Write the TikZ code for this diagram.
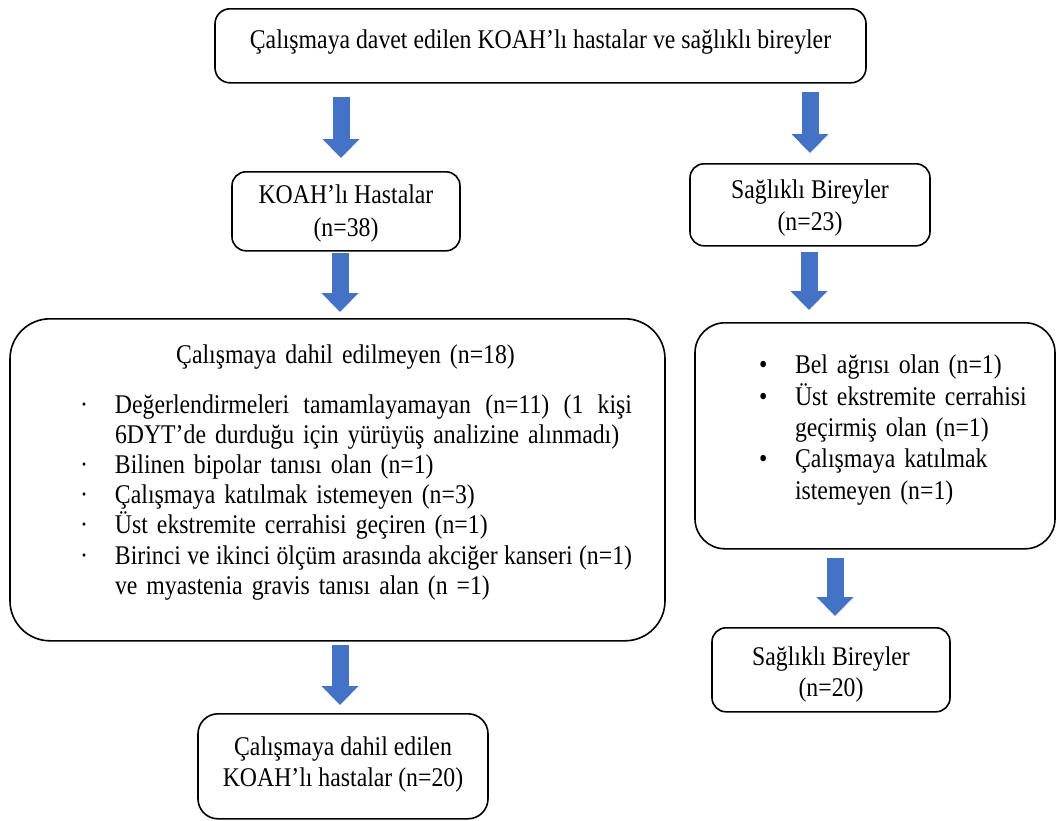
\documentclass[tikz,border=0pt]{standalone}
\usepackage{xcolor}
\usepackage{fontspec}
\setmainfont{Liberation Serif}[FakeStretch=0.88]
\usetikzlibrary{arrows.meta}
\usetikzlibrary{positioning}

\definecolor{arrowblue}{HTML}{4472C4}
\newcommand{\exitem}[1]{\hspace*{58pt}\makebox[35pt][l]{·}#1}
\newcommand{\exfull}[1]{{\spaceskip=5.9pt plus 20pt minus 3pt\makebox[517pt][s]{#1}}}
\newcommand{\hyitem}[1]{\hspace*{54pt}\makebox[36pt][l]{•}#1}

\begin{document}
\begin{tikzpicture}[x=1pt, y=-1pt, font={\fontsize{27}{31}\selectfont}]
\tikzset{BoxStyle/.style = {draw, line width=1.6pt, inner sep=0pt, anchor=north, align=center}}
\tikzset{ArrowStyle/.style = {arrowblue, line width=17pt, -{Triangle[width=36pt, length=19pt]}}}
	\useasboundingbox (0,0) rectangle (1057,820);

	\node[BoxStyle, rounded corners=15pt, minimum width=651pt, text height=40pt, text depth=34pt] (invited) at (540.5,8)
		{Çalışmaya davet edilen KOAH’lı hastalar ve sağlıklı bireyler};

	\node[BoxStyle, rounded corners=14pt, minimum width=228pt, text height=65pt, text depth=14pt, font={\fontsize{27}{33}\selectfont}] (copd) at (346,171)
		{KOAH’lı Hastalar\\(n=38)};
	\node[BoxStyle, rounded corners=14pt, minimum width=240pt, text height=67pt, text depth=15pt, font={\fontsize{27}{32}\selectfont}] (healthy) at (810,163)
		{Sağlıklı Bireyler\\(n=23)};

	\node[BoxStyle, rounded corners=40pt, minimum width=655pt, text width=631pt, align=left, text height=45pt, text depth=277pt, font={\fontsize{27}{30.2}\selectfont}] (copdout) at (337.5,318)
		{\makebox[631pt]{\hspace*{16pt}Çalışmaya dahil edilmeyen (n=18)}\\[19pt]
		\exitem{\exfull{Değerlendirmeleri tamamlayamayan (n=11) (1 kişi}}\\
		\hspace*{93pt}6DYT’de durduğu için yürüyüş analizine alınmadı)\\
		\exitem{Bilinen bipolar tanısı olan (n=1)}\\
		\exitem{Çalışmaya katılmak istemeyen (n=3)}\\
		\exitem{Üst ekstremite cerrahisi geçiren (n=1)}\\
		\exitem{\exfull{Birinci ve ikinci ölçüm arasında akciğer kanseri (n=1)}}\\
		\hspace*{93pt}ve myastenia gravis tanısı alan (n =1)};

	\node[BoxStyle, rounded corners=30pt, minimum width=360pt, text width=340pt, align=left, text height=51pt, text depth=175pt, font={\fontsize{27}{31.3}\selectfont}] (healthyout) at (875,322)
		{\hyitem{Bel ağrısı olan (n=1)}\\
		\hyitem{Üst ekstremite cerrahisi}\\
		\hspace*{90pt}geçirmiş olan (n=1)\\
		\hyitem{Çalışmaya katılmak}\\
		\hspace*{90pt}istemeyen (n=1)};

	\node[BoxStyle, rounded corners=20pt, minimum width=290pt, text height=73pt, text depth=32pt] (copdin) at (343,713)
		{Çalışmaya dahil edilen\\KOAH’lı hastalar (n=20)};
	\node[BoxStyle, rounded corners=14pt, minimum width=238pt, text height=69pt, text depth=15pt] (healthyin) at (831,627)
		{Sağlıklı Bireyler\\(n=20)};

	\coordinate (a1s) at (341,97);  \coordinate (a1e) at (341,158);
	\coordinate (a2s) at (810,92);  \coordinate (a2e) at (810,153);
	\coordinate (a3s) at (340,253); \coordinate (a3e) at (340,312);
	\coordinate (a4s) at (809,252); \coordinate (a4e) at (809,310);
	\coordinate (a5s) at (340,645); \coordinate (a5e) at (340,705);
	\coordinate (a6s) at (835,558); \coordinate (a6e) at (835,616);
	\draw[ArrowStyle] (a1s) -- (a1e);
	\draw[ArrowStyle] (a2s) -- (a2e);
	\draw[ArrowStyle] (a3s) -- (a3e);
	\draw[ArrowStyle] (a4s) -- (a4e);
	\draw[ArrowStyle] (a5s) -- (a5e);
	\draw[ArrowStyle] (a6s) -- (a6e);

\end{tikzpicture}
\end{document}
